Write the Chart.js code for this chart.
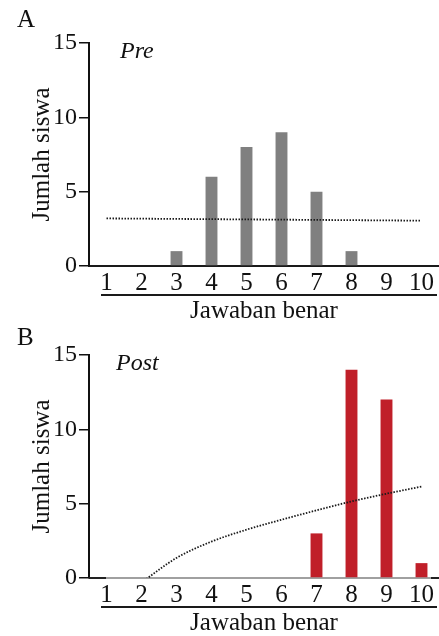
<!DOCTYPE html>
<html><head><meta charset="utf-8">
<script src="https://cdn.jsdelivr.net/npm/chart.js@4.4.1/dist/chart.umd.min.js"></script>
<style>
html,body{margin:0;padding:0;background:#fff;overflow:hidden;width:439px;height:636px;}
canvas{position:absolute;left:0;}
#cA{top:0;} #cB{top:312px;}
</style></head><body>
<canvas id="cA" width="439" height="326"></canvas>
<canvas id="cB" width="439" height="326"></canvas>
<script>
const categories = ['1','2','3','4','5','6','7','8','9','10'];
const preCounts  = [0,0,1,6,8,9,5,1,0,0];
const postCounts = [0,0,0,0,0,0,3,14,12,1];
const preTrend   = [3.2,null,null,null,null,null,null,null,null,3.05];
const postTrend  = [null,-0.3,1.35,2.45,3.25,3.92,4.55,5.15,5.67,6.15];
const yTicks = [0,5,10,15];
const xTitle = 'Jawaban benar';
const yTitle = 'Jumlah siswa';

const SERIF = '"Liberation Serif","Times New Roman",serif';

const decor = {
  id: 'decor',
  afterDraw(chart, args, o) {
    const {ctx, chartArea: a} = chart;
    ctx.save();
    if (o.baseEnds) {
      ctx.strokeStyle = '#222'; ctx.lineWidth = 2;
      ctx.beginPath();
      ctx.moveTo(a.left, a.bottom); ctx.lineTo(a.left + 17, a.bottom);
      ctx.moveTo(a.right - 8, a.bottom); ctx.lineTo(a.right, a.bottom);
      ctx.stroke();
    }
    ctx.strokeStyle = '#1a1a1a'; ctx.lineWidth = 2;
    ctx.beginPath();
    ctx.moveTo(a.left + 12, a.bottom + 29);
    ctx.lineTo(a.right - 2, a.bottom + 29);
    ctx.stroke();
    ctx.fillStyle = '#111';
    ctx.textAlign = 'left'; ctx.textBaseline = 'alphabetic';
    ctx.font = '25px ' + SERIF;
    ctx.fillText(o.letter, 17, o.letterY);
    ctx.font = 'italic 24px ' + SERIF;
    ctx.fillText(o.phase, a.left + o.phaseDx, a.top + 15);
    ctx.restore();
  }
};

function makeChart(id, counts, trend, barColor, opts) {
  return new Chart(document.getElementById(id), {
    type: 'bar',
    data: {
      labels: categories,
      datasets: [
        {
          type: 'line', data: trend, order: 1,
          borderColor: '#1a1a1a', borderWidth: 1.8, borderDash: [1.5, 1.5],
          pointRadius: 0, fill: false, spanGaps: true,
          cubicInterpolationMode: 'monotone', tension: 0.4
        },
        {
          type: 'bar', data: counts, order: 2,
          backgroundColor: barColor, borderWidth: 0,
          categoryPercentage: 1, barPercentage: 0.34
        }
      ]
    },
    options: {
      responsive: false, animation: false, devicePixelRatio: 1,
      layout: {padding: {top: 43, left: 0, right: 0, bottom: 0}},
      plugins: {legend: {display: false}, tooltip: {enabled: false}, decor: opts},
      scales: {
        x: {
          offset: true,
          grid: {display: false, drawTicks: false},
          border: {display: true, color: opts.baseColor, width: 2},
          ticks: {color: '#111', padding: 2, font: {family: SERIF, size: 25}, maxRotation: 0, autoSkip: false},
          title: {display: true, text: xTitle, color: '#111', font: {family: SERIF, size: 25, lineHeight: 1}, padding: {top: 0, bottom: 2}},
          afterFit(s) { s.height = 60; }
        },
        y: {
          min: 0, max: 15,
          afterBuildTicks(s) { s.ticks = yTicks.map(v => ({value: v})); },
          grid: {display: true, drawOnChartArea: false, drawTicks: true, tickLength: 10, color: '#111', lineWidth: 1.5},
          border: {display: true, color: '#111', width: 2},
          ticks: {color: '#111', padding: 2, font: {family: SERIF, size: 24}},
          title: {display: true, text: yTitle, color: '#111', font: {family: SERIF, size: 25, lineHeight: 1}, padding: {top: 29.5, bottom: 0}},
          afterFit(s) { s.width = 89; }
        }
      }
    },
    plugins: [decor]
  });
}

makeChart('cA', preCounts, preTrend, '#808080',
  {letter: 'A', letterY: 27, phase: 'Pre', phaseDx: 31, baseColor: '#1a1a1a', baseEnds: false});
makeChart('cB', postCounts, postTrend, '#c01f29',
  {letter: 'B', letterY: 33, phase: 'Post', phaseDx: 27, baseColor: '#a0a0a0', baseEnds: true});
</script>
</body></html>
